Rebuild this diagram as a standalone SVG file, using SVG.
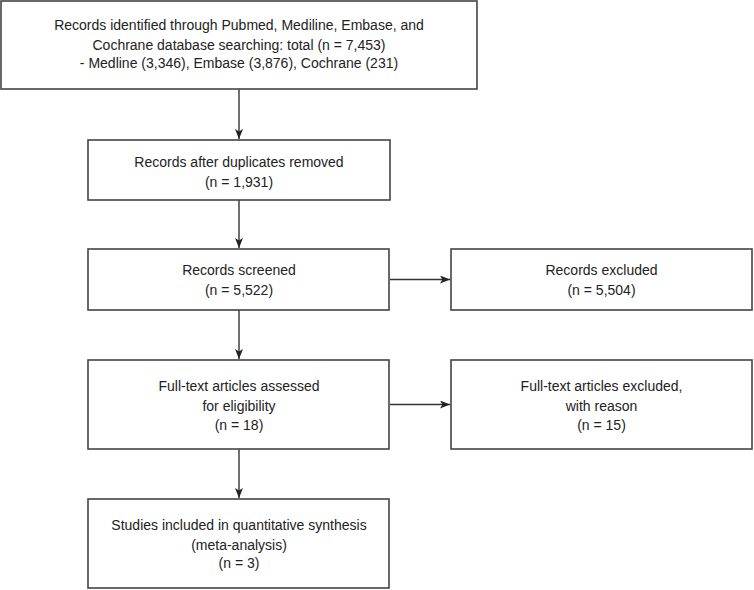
<svg xmlns="http://www.w3.org/2000/svg" width="754" height="590" viewBox="0 0 754 590">
<style>
.box{fill:#fff;stroke:#444;stroke-width:1.6}
.t{font-family:"Liberation Sans",Arial,sans-serif;font-size:14px;fill:#222;text-anchor:middle}
.c{stroke:#333;stroke-width:1.4;fill:none}
</style>
<defs>
<marker id="ah" markerWidth="10" markerHeight="8" refX="10" refY="4" orient="auto" markerUnits="userSpaceOnUse">
<path d="M0,0 L10,4 L0,8 L2.5,4 Z" fill="#222"/>
</marker>
</defs>
<rect width="754" height="590" fill="#fff"/>
<g id="connectors">
<line class="c" x1="239" y1="89" x2="239" y2="139" marker-end="url(#ah)"/>
<line class="c" x1="239" y1="200" x2="239" y2="248" marker-end="url(#ah)"/>
<line class="c" x1="239" y1="310" x2="239" y2="359" marker-end="url(#ah)"/>
<line class="c" x1="239" y1="449" x2="239" y2="498" marker-end="url(#ah)"/>
<line class="c" x1="390" y1="279.5" x2="450" y2="279.5" marker-end="url(#ah)"/>
<line class="c" x1="390" y1="404.5" x2="450" y2="404.5" marker-end="url(#ah)"/>
</g>
<g id="identified">
<rect class="box" x="1" y="1" width="476" height="88"/>
<text class="t" x="239" y="30">Records identified through Pubmed, Mediline, Embase, and</text>
<text class="t" x="239" y="50">Cochrane database searching: total (n = 7,453)</text>
<text class="t" x="239" y="68">- Medline (3,346), Embase (3,876), Cochrane (231)</text>
</g>
<g id="duplicates">
<rect class="box" x="88" y="140" width="302" height="60"/>
<text class="t" x="239" y="167">Records after duplicates removed</text>
<text class="t" x="239" y="187">(n = 1,931)</text>
</g>
<g id="screened">
<rect class="box" x="88" y="249" width="301" height="61"/>
<text class="t" x="239" y="275">Records screened</text>
<text class="t" x="239" y="295">(n = 5,522)</text>
</g>
<g id="excluded">
<rect class="box" x="451" y="249" width="301" height="61"/>
<text class="t" x="601.5" y="275">Records excluded</text>
<text class="t" x="601.5" y="295">(n = 5,504)</text>
</g>
<g id="fulltext">
<rect class="box" x="88" y="360" width="301" height="89"/>
<text class="t" x="239" y="391">Full-text articles assessed</text>
<text class="t" x="239" y="411">for eligibility</text>
<text class="t" x="239" y="430">(n = 18)</text>
</g>
<g id="fulltext-excluded">
<rect class="box" x="451" y="360" width="301" height="89"/>
<text class="t" x="601.5" y="391">Full-text articles excluded,</text>
<text class="t" x="601.5" y="411">with reason</text>
<text class="t" x="601.5" y="430">(n = 15)</text>
</g>
<g id="included">
<rect class="box" x="88" y="499" width="301" height="89"/>
<text class="t" x="239" y="530">Studies included in quantitative synthesis</text>
<text class="t" x="239" y="550">(meta-analysis)</text>
<text class="t" x="239" y="568">(n = 3)</text>
</g>
</svg>
